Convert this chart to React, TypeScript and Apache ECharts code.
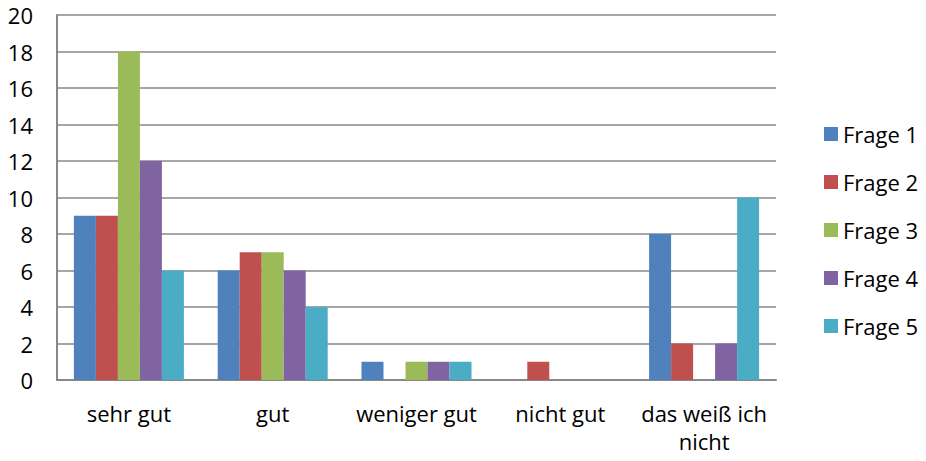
import React, { useEffect, useRef } from "react";
import * as echarts from "echarts";

const categories = ["sehr gut", "gut", "weniger gut", "nicht gut", "das weiß ich\nnicht"];
const seriesNames = ["Frage 1", "Frage 2", "Frage 3", "Frage 4", "Frage 5"];
const frage1 = [9, 6, 1, 0, 8];
const frage2 = [9, 7, 0, 1, 2];
const frage3 = [18, 7, 1, 0, 0];
const frage4 = [12, 6, 1, 0, 2];
const frage5 = [6, 4, 1, 0, 10];
const colors = ["#4F81BD", "#C0504D", "#9BBB59", "#8064A2", "#4BACC6"];

export default function App() {
  const ref = useRef<HTMLDivElement>(null);
  useEffect(() => {
    if (!ref.current) return;
    const chart = echarts.init(ref.current, null, { renderer: "svg" });
    const data = [frage1, frage2, frage3, frage4, frage5];
    const font = "'Open Sans', Lato, sans-serif";
    chart.setOption({
      animation: false,
      color: colors,
      textStyle: { fontFamily: font },
      grid: { left: 57, right: 150, top: 15, bottom: 81, containLabel: false },
      legend: {
        orient: "vertical",
        left: 819,
        top: 118,
        itemWidth: 14,
        itemHeight: 14,
        itemGap: 26,
        icon: "rect",
        textStyle: { fontSize: 22, lineHeight: 22, color: "#000", fontFamily: font },
        data: seriesNames,
      },
      xAxis: {
        type: "category",
        data: categories,
        axisLine: { lineStyle: { color: "#888", width: 2 } },
        axisTick: { show: false },
        axisLabel: { color: "#000", fontSize: 22, margin: 19, lineHeight: 28, fontFamily: font, interval: 0 },
      },
      yAxis: {
        type: "value",
        min: 0,
        max: 20,
        interval: 2,
        axisLine: { show: true, lineStyle: { color: "#888", width: 2 } },
        axisTick: { show: false },
        splitLine: { lineStyle: { color: "#888", width: 1.5 } },
        axisLabel: { color: "#000", fontSize: 22, margin: 24, fontFamily: font },
      },
      series: seriesNames.map((name, i) => ({
        name,
        type: "bar",
        data: data[i],
        barGap: "0%",
        barCategoryGap: "23.5%",
        itemStyle: { color: colors[i], borderWidth: 0 },
      })),
    });
    return () => chart.dispose();
  }, []);
  return (
    <div
      ref={ref}
      style={{ position: "absolute", left: 0, top: 0, width: 926, height: 461 }}
    />
  );
}
